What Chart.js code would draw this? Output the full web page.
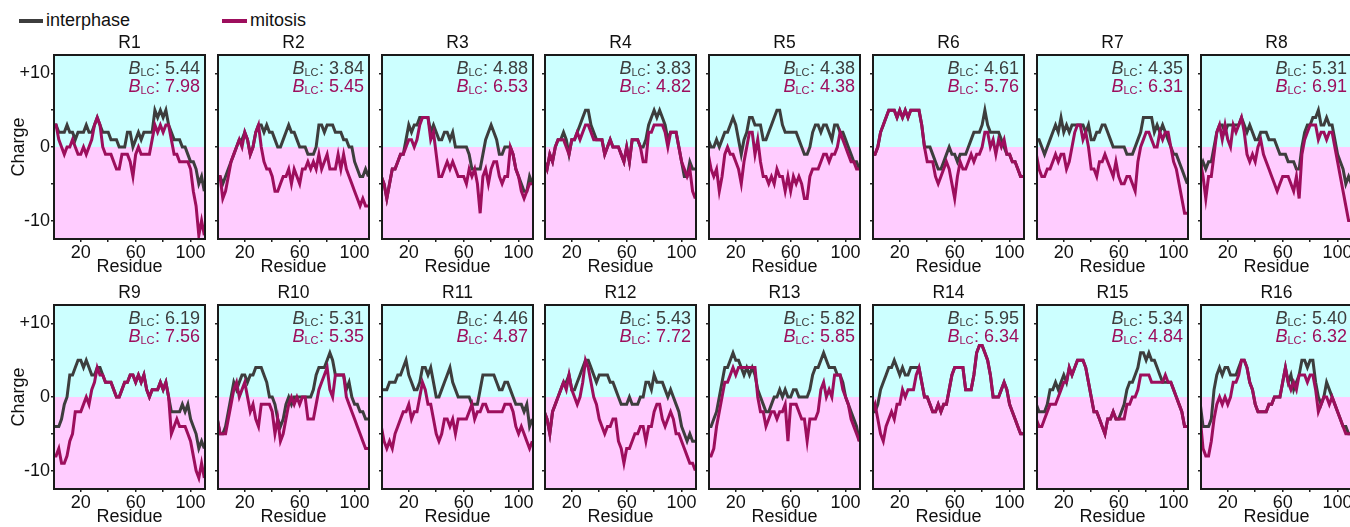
<!DOCTYPE html>
<html><head><meta charset="utf-8">
<script src="https://cdn.jsdelivr.net/npm/chart.js@4.4.1/dist/chart.umd.min.js"></script>
<style>
html,body{margin:0;padding:0;background:#fff;overflow:hidden;width:1350px;height:527px;}
#wrap{position:relative;width:1350px;height:527px;overflow:hidden;}
canvas{position:absolute;}
.leg{position:absolute;font:18px 'Liberation Sans',Arial,sans-serif;color:#111;line-height:20px;white-space:nowrap;}
.sw{position:absolute;height:4px;}
</style></head><body><div id="wrap">
<div class="sw" style="left:19px;top:19px;width:24px;background:#3d3d3d"></div>
<div class="leg" style="left:46px;top:10px">interphase</div>
<div class="sw" style="left:222px;top:19px;width:25px;background:#9d0e5d"></div>
<div class="leg" style="left:250px;top:10px">mitosis</div>
</div>
<script>
// ---- data ----
const residues = [0,2,4,6,8,10,12,14,16,18,20,22,24,26,28,30,32,34,36,38,40,42,44,46,48,50,52,54,56,58,60,62,64,66,68,70,72,74,76,78,80,82,84,86,88,90,92,94,96,98,100,102,104,106,108,110];
const titles = ['R1','R2','R3','R4','R5','R6','R7','R8','R9','R10','R11','R12','R13','R14','R15','R16'];
const blcInterphase = [5.44,3.84,4.88,3.83,4.38,4.61,4.35,5.31,6.19,5.31,4.46,5.43,5.82,5.95,5.34,5.40];
const blcMitosis    = [7.98,5.45,6.53,4.82,4.38,5.76,6.31,6.91,7.56,5.35,4.87,7.72,5.85,6.34,4.84,6.32];
const xTickValues = [20,40,60,80,100];
const xTickLabels = [20,60,100];
const yTickValues = [-10,-5,0,5,10];

const R1_interphase = [3,3,2,2,2,3,2,2,1,2, 2,2,3,2,2,3,4,3,2,2, 2,1,1,1,0,0,0,2,2,0, 1,2,1,2,2,2,2,5,4,5, 4,5,3,2,1,1,1,0,0,-1, -2,-2,-3,-5,-4,-6];
const R1_mitosis    = [3,3,1,0,-1,0,0,1,0,-1, -1,0,-1,0,1,3,4,3,0,-1, -1,-1,-2,-3,-3,-1,-1,-1,-2,-4, -1,0,-1,-1,-1,-1,1,3,2,3, 2,3,3,1,-1,-1,-2,-2,-2,-2, -3,-6,-8,-12,-10,-12];
const R2_interphase = [-4,-4,-5,-4,-3,-2,-1,0,1,1, 2,1,-1,0,2,3,3,2,3,2, 2,1,0,0,1,2,3,2,2,1, 0,0,0,-1,-1,-1,0,3,3,2, 3,3,3,2,2,2,1,1,0,0, -2,-3,-4,-4,-3,-4];
const R2_mitosis    = [-4,-4,-7,-6,-4,-2,-1,0,1,0, 2,1,-1,0,2,3,0,-2,-3,-3, -4,-6,-6,-5,-4,-4,-3,-5,-3,-4, -5,-3,-3,-2,-3,-2,-3,-1,-3,-2, -1,-3,-3,-3,-1,-3,-1,-3,-4,-5, -6,-7,-8,-7,-8,-8];
const R3_interphase = [-4,-5,-7,-5,-3,-3,-2,-1,-1,1, 3,2,3,3,4,4,4,4,2,3, 2,1,1,2,2,1,2,0,0,0, 0,0,-1,-3,-3,-3,-3,-1,1,2, 3,2,1,-1,-1,0,0,0,-1,-3, -4,-5,-6,-6,-4,-5];
const R3_mitosis    = [-4,-5,-7,-5,-3,-3,-2,-1,-1,0, 1,1,0,1,3,4,4,4,1,2, -1,-4,-4,-3,-2,-3,-2,-3,-4,-4, -4,-5,-3,-4,-3,-5,-9,-4,-3,-5, -3,-2,-2,-4,-5,-4,-4,0,-1,-3, -4,-6,-7,-6,-5,-5];
const R4_interphase = [-2,-3,-1,-2,0,1,1,2,1,-1, 1,1,2,3,4,5,5,3,2,1, 1,1,-1,0,1,0,0,0,-1,-2, 0,-2,1,1,1,0,0,1,3,4, 5,4,5,4,3,1,2,2,2,0, -2,-4,-4,-2,-3,-3];
const R4_mitosis    = [-2,-3,-1,-2,0,1,1,1,0,-1, 1,1,2,1,2,3,3,2,1,1, 1,1,-1,0,1,0,0,0,-1,-2, 0,-2,1,1,1,0,-2,-2,2,2, 3,3,3,3,2,0,2,2,2,0, -2,-3,-4,-3,-6,-7];
const R5_interphase = [1,0,0,1,0,1,2,2,3,4, 3,1,-1,1,2,4,4,3,3,3, 1,1,2,3,4,5,5,3,2,2, 2,2,2,1,0,-1,-1,0,2,3, 3,2,3,3,2,1,3,3,2,2, 1,0,-1,-2,-2,-3];
const R5_mitosis    = [-1,-3,-4,-3,-6,-4,-1,0,-1,-1, -2,-3,-5,-2,0,2,2,-1,1,-2, -4,-4,-5,-4,-5,-3,-4,-4,-6,-4, -6,-4,-5,-4,-5,-7,-7,-4,-3,-3, -3,-2,-1,-1,-2,-1,-1,0,2,1, 0,-1,-2,-2,-3,-3];
const R6_interphase = [-1,-1,0,2,3,4,5,5,5,4, 5,4,5,4,5,5,5,5,3,0, 0,0,-1,-2,-3,-3,-2,-1,0,-1, -1,-2,-1,-1,-1,0,1,2,2,2, 3,5,3,2,2,2,2,1,0,-1, -1,-2,-2,-3,-4,-4];
const R6_mitosis    = [-1,-1,0,2,3,4,5,5,5,4, 5,4,5,4,5,5,5,5,3,0, -2,-2,-2,-4,-5,-4,-3,-2,-3,-5, -7,-4,-2,-3,-3,-2,-1,-2,-1,-1, 0,2,2,0,1,-1,1,0,1,-1, -1,-2,-2,-3,-4,-4];
const R7_interphase = [1,1,0,-1,0,1,2,3,2,4, 2,3,2,3,3,3,3,3,2,3, 1,1,2,2,3,3,2,1,0,0, 0,0,0,-1,-1,-1,0,1,2,4, 4,4,4,2,3,2,3,2,1,0, -1,-1,-2,-3,-4,-5];
const R7_mitosis    = [-1,-3,-4,-4,-3,-3,-2,-1,-2,-1, -1,-3,-2,0,2,3,3,1,2,0, -3,-3,-4,-2,-2,-1,-2,-3,-4,-2, -4,-5,-5,-4,-4,-5,-6,-2,0,1, 2,2,1,0,0,2,1,2,2,0, -2,-3,-5,-7,-9,-9];
const R8_interphase = [-3,-2,-3,-2,-2,0,2,3,3,2, 3,3,3,3,3,4,3,2,3,2, 1,1,2,2,2,1,1,1,0,-1, -1,-1,-2,-2,-2,-3,-3,0,2,3, 3,4,4,5,3,3,4,3,3,1, -1,-2,-3,-5,-4,-5];
const R8_mitosis    = [-2,-4,-7,-4,-4,-1,2,3,1,3, 1,0,3,2,3,4,2,-1,-2,-1, -2,0,1,-1,-2,-3,-4,-5,-6,-5, -4,-4,-4,-5,-6,-4,-7,-1,1,2, 3,3,3,1,2,2,1,2,2,0, -2,-4,-6,-8,-10,-10];
const R9_interphase = [-4,-4,-4,-3,-1,0,3,3,4,5, 5,4,5,4,3,3,4,4,3,2, 2,2,1,0,0,1,2,2,3,3, 2,3,2,3,1,0,1,1,1,2, 1,2,0,-2,-2,-2,-2,-1,-2,-1, -3,-4,-5,-7,-6,-7];
const R9_mitosis    = [-8,-8,-7,-9,-9,-8,-6,-5,-2,-2, -2,-1,0,-1,1,2,4,3,3,2, 2,2,1,0,0,1,2,2,3,3, 2,3,2,3,1,0,1,1,1,2, 1,2,0,-5,-4,-3,-4,-4,-4,-5, -6,-8,-10,-11,-9,-11];
const R10_interphase = [-3,-5,-5,-4,-2,0,2,1,2,3, 3,2,3,3,4,4,4,3,2,0, 0,-1,-3,-4,-3,-1,0,-1,0,0, 0,0,0,0,0,1,3,4,4,4, 5,6,5,3,3,3,3,1,2,0, -1,-1,-2,-2,-3,-3];
const R10_mitosis    = [-3,-5,-5,-5,-3,-1,1,2,0,1, 2,0,-2,-1,-3,-4,-1,-1,-1,-1, -2,-5,-3,-6,-5,-3,-1,0,-1,0, -1,0,0,-3,-3,-3,-1,1,2,3, 4,1,0,3,3,3,3,0,-1,-2, -3,-4,-5,-6,-7,-7];
const R11_interphase = [1,1,1,2,2,2,3,3,4,5, 3,2,1,1,2,4,4,3,4,2, 0,0,1,2,3,4,2,1,0,0, 0,0,0,-1,-1,-1,1,3,3,3, 3,3,2,1,1,2,2,1,0,-1, -1,-1,-2,-1,-4,-3];
const R11_mitosis    = [-4,-6,-7,-6,-7,-5,-4,-3,-2,-2, -1,-3,-2,-2,0,2,1,-1,-1,-3, -5,-6,-5,-3,-3,-4,-3,-5,-3,-3, -3,-3,-2,-1,-3,-2,-2,-1,-1,-2, -2,-2,-2,-2,-2,-1,-1,-1,-2,-4, -5,-4,-5,-6,-7,-6];
const R12_interphase = [-2,-3,-5,-2,-1,0,1,2,2,3, 1,1,2,3,4,5,5,4,3,2, 3,3,3,3,2,2,1,0,-1,-1, -1,0,-1,-1,-1,0,0,2,2,1, 3,2,2,2,1,0,1,0,-1,-2, -4,-5,-6,-5,-6,-6];
const R12_mitosis    = [-2,-3,-5,-2,-1,0,1,2,1,3, 1,0,-1,0,2,5,4,2,0,-1, -3,-4,-5,-4,-4,-3,-3,-6,-7,-9, -7,-7,-6,-5,-5,-4,-4,-6,-4,-4, -2,-1,-1,-3,-4,-3,-2,-3,-5,-5, -6,-7,-8,-9,-9,-10];
const R13_interphase = [-4,-4,-3,-2,0,2,4,4,5,6, 5,5,4,3,4,3,4,3,1,0, -1,-2,-2,-1,0,0,1,0,1,0, 0,1,1,0,0,0,0,1,3,4, 4,5,6,5,4,4,4,3,3,2, 0,-1,-2,-3,-4,-6];
const R13_mitosis    = [-8,-8,-7,-4,-2,0,2,2,3,4, 3,4,4,4,4,4,4,4,0,-2, -2,-4,-3,-2,-2,-3,-2,-2,-1,-6, -1,-1,-1,-2,-3,-3,-6,-3,-3,-3, -2,1,2,0,1,0,3,3,3,1, 0,-1,-3,-4,-5,-6];
const R14_interphase = [-2,-2,-1,1,2,3,4,4,5,4, 3,4,3,3,4,4,4,4,2,0, 0,-1,-2,-2,-1,-2,-1,-1,1,3, 4,4,4,4,1,1,1,3,6,7, 7,6,5,3,0,0,0,1,2,1, -1,-2,-3,-4,-5,-5];
const R14_mitosis    = [-2,-1,-3,-5,-6,-4,-3,-2,-3,-1, -1,1,0,1,1,1,3,4,2,0, 0,-1,-2,-2,-1,-2,-1,-1,1,3, 4,4,4,4,1,1,1,3,6,7, 7,6,5,3,0,0,0,1,2,1, -1,-2,-3,-4,-5,-5];
const R15_interphase = [-1,-2,-2,-2,-1,1,1,2,1,2, 3,2,4,3,4,5,5,5,4,2, 0,-2,-2,-3,-4,-5,-3,-3,-2,-3, -3,-2,-1,1,2,2,3,4,6,6, 5,6,5,5,4,3,2,2,2,2, 1,0,-1,-2,-4,-4];
const R15_mitosis    = [-3,-4,-4,-3,-2,-1,-1,-1,0,1, 2,2,4,3,4,5,5,5,4,2, 0,-2,-2,-3,-4,-5,-3,-3,-2,-3, -3,-3,-3,-1,-1,0,0,1,3,3, 3,3,2,2,2,2,2,3,2,2, 1,0,-1,-2,-4,-4];
const R16_interphase = [-1,-4,-4,-4,-3,1,3,4,3,4, 4,3,3,3,4,5,5,4,2,1, -1,-2,-2,-2,-2,-1,-1,0,0,0, 2,4,2,3,1,2,3,5,5,4, 5,5,2,0,-1,0,2,1,0,-1, -2,-3,-4,-4,-5,-5];
const R16_mitosis    = [-3,-7,-8,-8,-6,-3,-1,0,-1,0, -1,0,2,2,3,5,5,4,2,1, -1,-2,-2,-2,-2,-1,-1,0,0,0, 2,4,2,1,2,1,3,3,3,2, 3,3,1,-2,-1,0,0,-1,0,-1, -2,-3,-4,-5,-5,-5];

const interphaseSeries = [R1_interphase,R2_interphase,R3_interphase,R4_interphase,R5_interphase,R6_interphase,R7_interphase,R8_interphase,R9_interphase,R10_interphase,R11_interphase,R12_interphase,R13_interphase,R14_interphase,R15_interphase,R16_interphase];
const mitosisSeries = [R1_mitosis,R2_mitosis,R3_mitosis,R4_mitosis,R5_mitosis,R6_mitosis,R7_mitosis,R8_mitosis,R9_mitosis,R10_mitosis,R11_mitosis,R12_mitosis,R13_mitosis,R14_mitosis,R15_mitosis,R16_mitosis];

// ---- styles ----
const COL_INTER = '#3d3d3d';
const COL_MIT = '#9d0e5d';
const BG_POS = '#ccffff';
const BG_NEG = '#ffccff';
const FONT = "'Liberation Sans', Arial, Helvetica, sans-serif";
Chart.defaults.font.family = FONT;
Chart.defaults.color = '#111';

const CW = 217, CH = 246;

function makePanel(i){
  const col = i % 8, row = Math.floor(i / 8);
  const cv = document.createElement('canvas');
  cv.width = CW; cv.height = CH;
  cv.style.width = CW + 'px'; cv.style.height = CH + 'px';
  cv.style.left = Math.round(col * 163.8) + 'px';
  cv.style.top = Math.round(33 + row * 250.3) + 'px';
  document.getElementById('wrap').appendChild(cv);

  const panelPlugin = {
    id: 'panelDeco' + i,
    beforeDatasetsDraw(chart){
      const {ctx, chartArea: a, scales: {y}} = chart;
      const y0 = y.getPixelForValue(0);
      ctx.save();
      ctx.fillStyle = BG_POS; ctx.fillRect(a.left, a.top, a.right - a.left, y0 - a.top);
      ctx.fillStyle = BG_NEG; ctx.fillRect(a.left, y0, a.right - a.left, a.bottom - y0);
      ctx.restore();
    },
    afterDatasetsDraw(chart){
      const {ctx, chartArea: a} = chart;
      ctx.save();
      ctx.strokeStyle = '#1a1a1a'; ctx.lineWidth = 2;
      ctx.strokeRect(a.left, a.top, a.right - a.left, a.bottom - a.top);
      const vals = [[blcInterphase[i], COL_INTER], [blcMitosis[i], COL_MIT]];
      vals.forEach(([v, c], k) => {
        const base = a.top + 19 + k * 17.6;
        const xr = a.right - 5;
        ctx.fillStyle = c; ctx.textBaseline = 'alphabetic'; ctx.textAlign = 'left';
        ctx.font = '18px ' + FONT;
        const t = ': ' + v.toFixed(2);
        const w1 = ctx.measureText(t).width;
        ctx.fillText(t, xr - w1, base);
        ctx.font = '11px ' + FONT;
        const w2 = ctx.measureText('LC').width;
        ctx.fillText('LC', xr - w1 - w2 - 0.5, base + 2);
        ctx.font = 'italic 18px ' + FONT;
        const w3 = ctx.measureText('B').width;
        ctx.fillText('B', xr - w1 - w2 - w3 - 0.5, base);
      });
      ctx.restore();
    }
  };

  const pts = arr => residues.map((r, k) => ({x: r, y: arr[k]}));

  new Chart(cv, {
    type: 'line',
    data: {
      datasets: [
        {label: 'interphase', data: pts(interphaseSeries[i]), borderColor: COL_INTER, borderWidth: 3, pointRadius: 0, tension: 0, fill: false, order: 1},
        {label: 'mitosis', data: pts(mitosisSeries[i]), borderColor: COL_MIT, borderWidth: 3, pointRadius: 0, tension: 0, fill: false, order: 0}
      ]
    },
    options: {
      responsive: false, maintainAspectRatio: false, animation: false, devicePixelRatio: 1, events: [],
      layout: {padding: {left: 0, right: 12, top: 0, bottom: 0}},
      plugins: {
        legend: {display: false}, tooltip: {enabled: false},
        title: {display: true, fullSize: false, text: titles[i], color: '#111', font: {size: 17.5, weight: 'normal'}, padding: {top: 0, bottom: 1}}
      },
      scales: {
        x: {
          type: 'linear', min: 0.5, max: 110.5,
          afterFit(s){ s.height = 40; },
          afterBuildTicks(s){ s.ticks = xTickValues.map(v => ({value: v})); },
          ticks: {autoSkip: false, maxRotation: 0, padding: 0, color: '#111', font: {size: 18},
            callback: v => xTickLabels.includes(v) ? String(v) : ''},
          grid: {display: true, drawOnChartArea: false, drawTicks: true, tickLength: 3, color: '#222', lineWidth: 1.5},
          border: {display: false},
          title: {display: true, text: 'Residue', color: '#111', font: {size: 18}, padding: {top: 0, bottom: 1}}
        },
        y: {
          type: 'linear', min: -12.5, max: 12.5,
          afterFit(s){ s.width = 54; },
          afterBuildTicks(s){ s.ticks = yTickValues.map(v => ({value: v})); },
          ticks: {padding: 1, color: '#111', font: {size: 18},
            callback: v => col !== 0 ? '' : (v === 10 ? '+10' : v === 0 ? '0' : v === -10 ? '-10' : '')},
          grid: {display: true, drawOnChartArea: false, drawTicks: true, tickLength: 3, color: '#222', lineWidth: 1.5},
          border: {display: false},
          title: {display: col === 0, text: 'Charge', color: '#111', font: {size: 18}, padding: {top: 8, bottom: 0}}
        }
      }
    },
    plugins: [panelPlugin]
  });
}

for (let i = 0; i < 16; i++) makePanel(i);
</script>
</body></html>
